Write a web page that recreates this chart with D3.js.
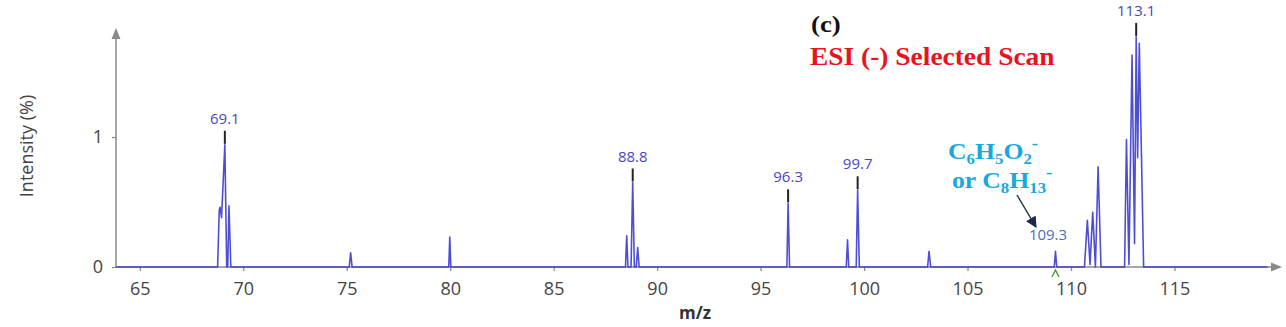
<!DOCTYPE html>
<html>
<head>
<meta charset="utf-8">
<script src="https://cdn.jsdelivr.net/npm/d3@7"></script>
<style>
  html, body { margin: 0; padding: 0; background: #fff; }
  svg { display: block; }
  .axis text { font-family: "Open Sans", sans-serif; font-size: 18px; fill: #444; }
  .axis line { stroke: #8a8a8a; stroke-width: 1.3; }
</style>
</head>
<body>
<div id="chart"></div>
<script>
// profile spectrum (m/z, intensity %)
var profileMz = [63.85,
  68.76, 68.84, 68.88, 68.95, 69.11, 69.20, 69.25, 69.31, 69.40,
  75.12, 75.19, 75.26,
  79.93, 79.98, 80.03,
  88.47, 88.53, 88.59, 88.74, 88.82, 88.90, 88.99, 89.06, 89.13,
  96.27, 96.33, 96.40,
  99.14, 99.20, 99.26,
  99.62, 99.69, 99.77,
  103.07, 103.14, 103.22,
  109.19, 109.25, 109.31,
  110.65, 110.79, 110.92, 111.05, 111.18, 111.31, 111.45,
  112.59, 112.68, 112.80, 112.95, 113.07, 113.15, 113.22, 113.30, 113.51,
  119.5];
var profileInt = [0,
  0, 0.44, 0.46, 0.38, 0.94, 0, 0, 0.47, 0,
  0, 0.11, 0,
  0, 0.23, 0,
  0, 0.24, 0, 0, 0.65, 0, 0, 0.15, 0,
  0, 0.49, 0,
  0, 0.21, 0,
  0, 0.59, 0,
  0, 0.12, 0,
  0, 0.12, 0,
  0, 0.36, 0.02, 0.42, 0, 0.77, 0,
  0, 0.98, 0.02, 1.63, 0.18, 1.77, 0.84, 1.72, 0,
  0];

// labelled peaks
var peakLabels = ["69.1", "88.8", "96.3", "99.7", "113.1"];
var peakMz = [69.11, 88.82, 96.33, 99.69, 113.15];
var peakInt = [0.94, 0.65, 0.49, 0.59, 1.77];

var xTicks = [65, 70, 75, 80, 85, 90, 95, 100, 105, 110, 115];
var yTicks = [0, 1];

var W = 1286, H = 327;
var x = d3.scaleLinear().domain([63.85, 120.1]).range([116, 1280]);
var y = d3.scaleLinear().domain([0, 1]).range([267, 137]);

var svg = d3.select("#chart").append("svg")
  .attr("width", W).attr("height", H);

var axisColor = "#8a8a8a";

// axes
var gx = svg.append("g").attr("class", "axis")
  .attr("transform", "translate(0," + y(0) + ")")
  .call(d3.axisBottom(x).tickValues(xTicks).tickSize(4).tickPadding(11));
gx.select(".domain").remove();

var gy = svg.append("g").attr("class", "axis")
  .attr("transform", "translate(" + x(63.85) + ",0)")
  .call(d3.axisLeft(y).tickValues(yTicks).tickSize(4).tickPadding(9).tickFormat(d3.format("d")));
gy.select(".domain").remove();

// axis lines with arrowheads
svg.append("line").attr("x1", x(63.85)).attr("x2", 1272)
  .attr("y1", y(0)).attr("y2", y(0))
  .attr("stroke", axisColor).attr("stroke-width", 1.5);
svg.append("path").attr("d", "M1282," + y(0) + "L1271," + (y(0) - 4.5) + "L1271," + (y(0) + 4.5) + "Z")
  .attr("fill", axisColor);
svg.append("line").attr("x1", x(63.85)).attr("x2", x(63.85))
  .attr("y1", y(0)).attr("y2", 38)
  .attr("stroke", axisColor).attr("stroke-width", 1.5);
svg.append("path").attr("d", "M" + x(63.85) + ",28L" + (x(63.85) - 4.5) + ",39L" + (x(63.85) + 4.5) + ",39Z")
  .attr("fill", axisColor);

// axis titles
svg.append("text")
  .attr("transform", "translate(33,146) rotate(-90)")
  .attr("text-anchor", "middle")
  .style("font-family", "'Open Sans', sans-serif").style("font-size", "18px").style("fill", "#444")
  .text("Intensity (%)");
svg.append("text")
  .attr("x", 695).attr("y", 319)
  .attr("text-anchor", "middle")
  .style("font-family", "'Open Sans', sans-serif").style("font-size", "17px")
  .style("font-weight", "bold").style("fill", "#333")
  .text("m/z");

// spectrum
var pts = profileMz.map(function (m, i) { return [m, profileInt[i]]; });
var line = d3.line().x(function (d) { return x(d[0]); }).y(function (d) { return y(d[1]); });
svg.append("path").datum(pts)
  .attr("d", line)
  .attr("fill", "none")
  .attr("stroke", "#3b3bd0")
  .attr("stroke-opacity", 0.9)
  .attr("stroke-width", 1.6)
  .attr("stroke-linejoin", "round");

// peak labels with black marker ticks
peakMz.forEach(function (m, i) {
  var px = x(m), py = y(peakInt[i]);
  svg.append("line").attr("x1", px).attr("x2", px)
    .attr("y1", py - 1).attr("y2", py - 14)
    .attr("stroke", "#222").attr("stroke-width", 2);
  svg.append("text")
    .attr("x", px).attr("y", py - 21)
    .attr("text-anchor", "middle")
    .style("font-family", "'Open Sans', sans-serif").style("font-size", "15px").style("fill", "#4646c4")
    .text(peakLabels[i]);
});

// 109.3 peak: label, green caret and annotation arrow
svg.append("text")
  .attr("x", 1048).attr("y", 240)
  .attr("text-anchor", "middle")
  .style("font-family", "'Open Sans', sans-serif").style("font-size", "15px").style("fill", "#4a6cc8")
  .text("109.3");
svg.append("path")
  .attr("d", "M" + (x(109.25) - 3.5) + ",277L" + x(109.25) + ",270L" + (x(109.25) + 3.5) + ",277")
  .attr("fill", "none").attr("stroke", "#3a9a3a").attr("stroke-width", 1.3);

svg.append("defs").append("marker")
  .attr("id", "arr").attr("viewBox", "0 0 10 10").attr("refX", 9).attr("refY", 5)
  .attr("markerWidth", 8).attr("markerHeight", 8).attr("orient", "auto")
  .append("path").attr("d", "M0,0L10,5L0,10Z").attr("fill", "#1b2a4e");
svg.append("line").attr("x1", 1017).attr("y1", 195).attr("x2", 1036).attr("y2", 227)
  .attr("stroke", "#1b2a4e").attr("stroke-width", 1.4).attr("marker-end", "url(#arr)");

// serif annotations
var serif = "'Liberation Serif', 'Times New Roman', serif";
function note(tx, ty, color, parts) {
  var t = svg.append("text")
    .attr("transform", "translate(" + tx + "," + ty + ") scale(1.12,1)")
    .style("font-family", serif).style("font-weight", "bold").style("fill", color);
  parts.forEach(function (p) {
    t.append("tspan").attr("dy", p[2] || 0).style("font-size", p[1] + "px").text(p[0]);
  });
}
note(811, 32, "#111", [["(c)", 24]]);
note(810, 65, "#e8141c", [["ESI (-) Selected Scan", 24.5]]);
note(948, 159, "#18a8de", [["C", 23], ["6", 15, 5], ["H", 23, -5], ["5", 15, 5],
  ["O", 23, -5], ["2", 15, 5], ["-", 17, -15]]);
note(952, 188, "#18a8de", [["or C", 23], ["8", 15, 5], ["H", 23, -5], ["13", 15, 5], ["-", 17, -15]]);
</script>
</body>
</html>
